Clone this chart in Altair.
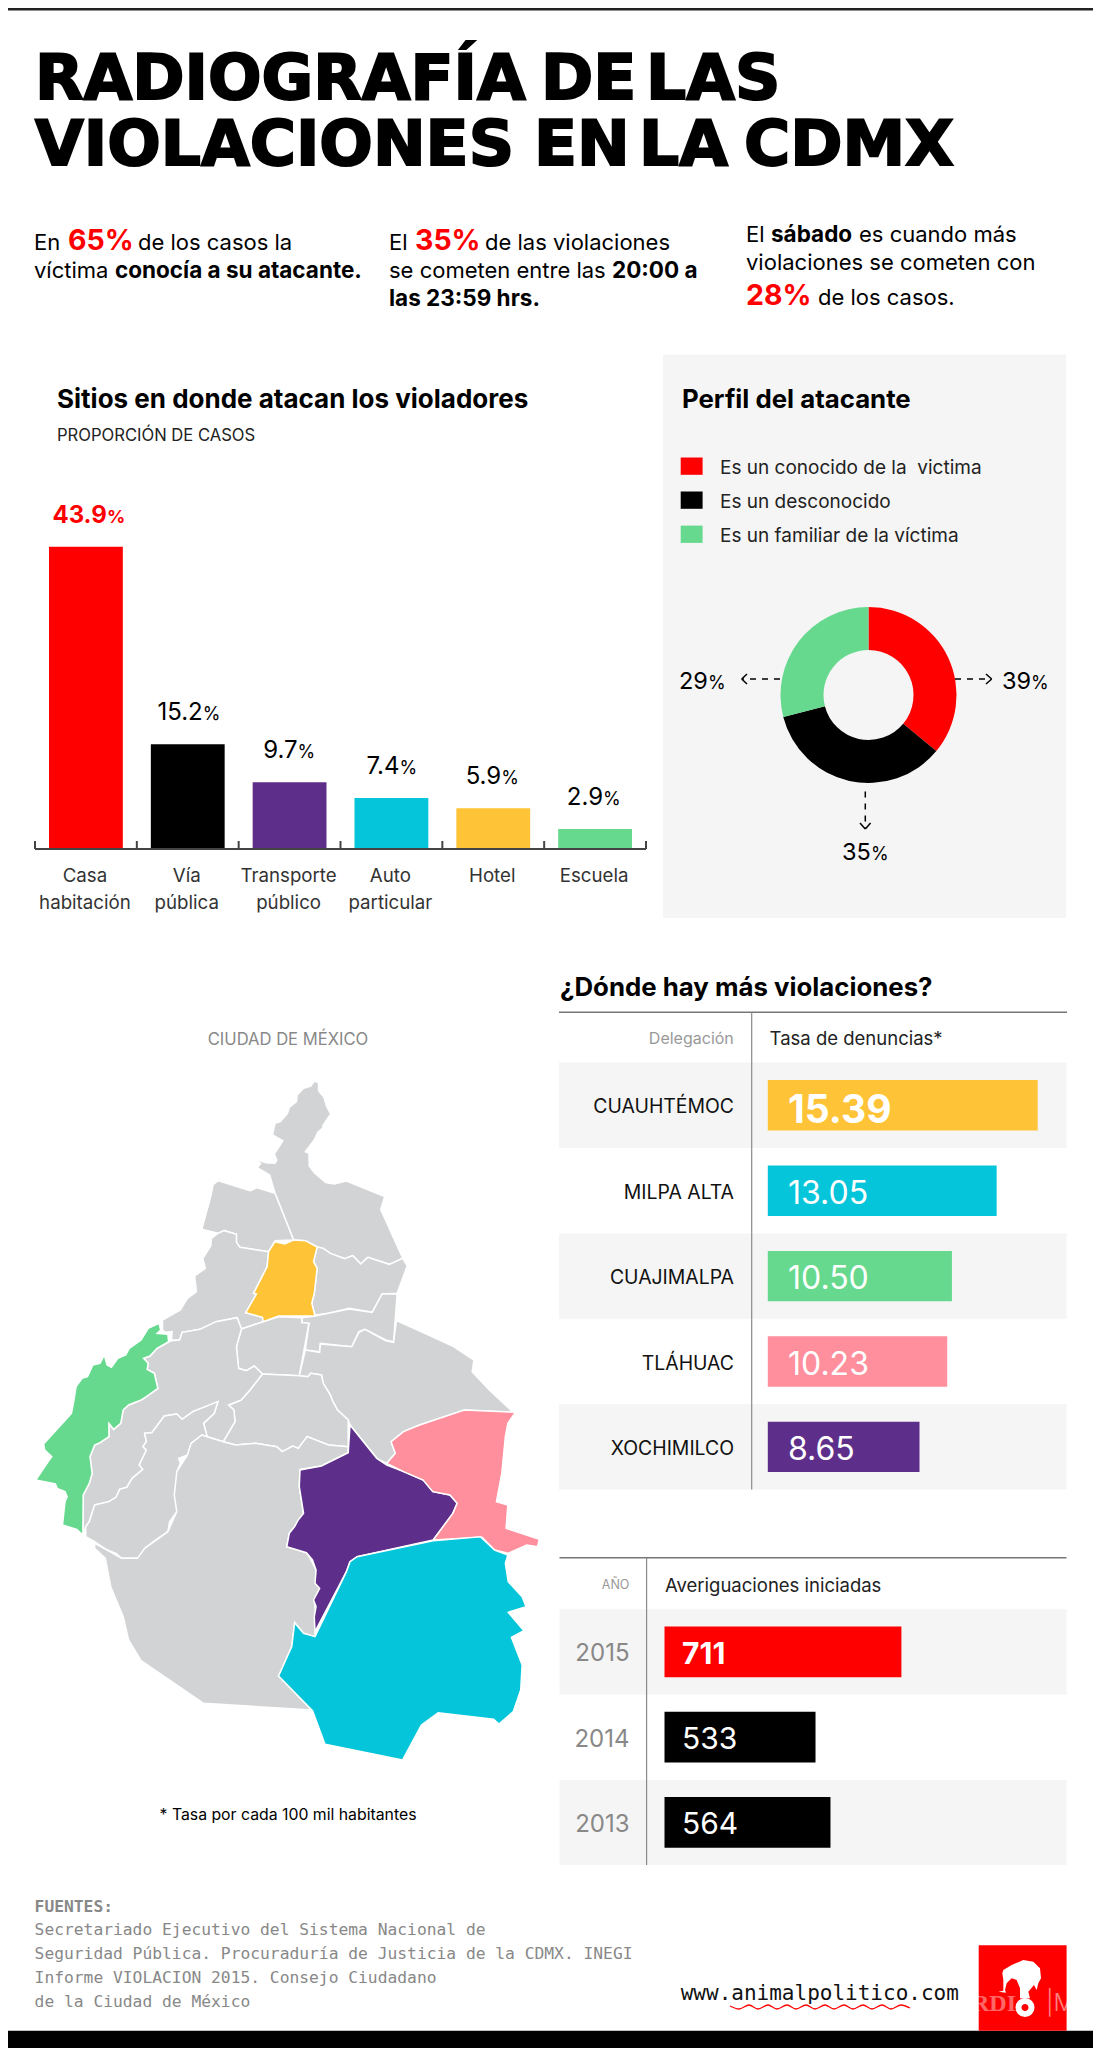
import altair as alt
import pandas as pd

# picture coordinates of the reference minus the page margin
M = 8
FONT = "Inter"
RED = "#ff0000"
PURPLE = "#5e2f8a"
CYAN = "#05c5da"
YELLOW = "#ffc338"
GREEN = "#66d98e"
PINK = "#ff8f9d"
GRAY = "#d1d3d5"
PANEL = "#f5f5f5"

SITES = ["Casa habitación", "Vía pública", "Transporte público", "Auto particular", "Hotel", "Escuela"]
SITE_LABELS = [["Casa", "habitación"], ["Vía", "pública"], ["Transporte", "público"], ["Auto", "particular"], ["Hotel"], ["Escuela"]]
SITE_VALUES = [43.9, 15.2, 9.7, 7.4, 5.9, 2.9]
SITE_COLORS = [RED, "#000000", PURPLE, CYAN, YELLOW, GREEN]
SITE_TICKS = [0, 1, 2, 3, 4, 5, 6]

PROFILE = ["Es un conocido de la \u00a0victima", "Es un desconocido", "Es un familiar de la víctima"]
PROFILE_SHARE = [36, 35, 29]
PROFILE_COLORS = [RED, "#000000", GREEN]

DELEGACIONES = ["CUAUHTÉMOC", "MILPA ALTA", "CUAJIMALPA", "TLÁHUAC", "XOCHIMILCO"]
TASAS = [15.39, 13.05, 10.50, 10.23, 8.65]
TASA_COLORS = [YELLOW, CYAN, GREEN, PINK, PURPLE]

YEARS = ["2015", "2014", "2013"]
AVERIGUACIONES = [711, 533, 564]
YEAR_COLORS = [RED, "#000000", "#000000"]

WAVE_X = [730, 739, 749, 758, 768, 777, 787, 796, 806, 815, 825, 834, 844, 853, 863, 872, 882, 891, 901, 910]
WAVE_Y = [2006, 2009, 2005, 2009, 2005, 2009, 2005, 2009, 2005, 2009, 2005, 2009, 2005, 2009, 2005, 2009, 2005, 2009, 2005, 2008]

# map outlines, traced in crop units (2.8 per px in x, 3 per px in y, origin 0,1000)
MAP_GAM = [(880,243),(892,248),(892,272),(907,292),(915,320),(926,342),(905,375),(903,385),(890,397),(880,420),(855,455),(865,460),(866,498),(880,518),(912,548),(936,552),(970,543),(1077,590),(1066,628),(1128,775),(1090,793),(1030,772),(1010,792),(988,767),(965,776),(925,760),(905,745),(888,741),(855,722),(822,720),(770,580),(755,525),(720,503),(730,490),(708,475),(745,488),(770,490),(775,480),(768,462),(792,422),(763,405),(770,370),(785,365),(805,340),(810,322),(830,305),(832,285),(850,265),(870,258)]
MAP_AZC = [(612,542),(700,572),(720,563),(770,580),(822,720),(770,722),(752,755),(672,742),(662,727),(662,703),(628,692),(610,700),(565,688),(590,590),(597,553)]
MAP_MH = [(610,700),(628,692),(662,703),(662,727),(672,742),(752,755),(748,800),(710,880),(718,882),(688,938),(735,952),(737,965),(676,987),(664,953),(605,965),(560,988),(510,997),(503,1020),(480,1020),(482,995),(462,997),(455,990),(455,960),(505,930),(525,895),(550,875),(545,828),(575,805),(568,775),(590,738),(592,715)]
MAP_VC = [(888,741),(905,745),(925,760),(965,776),(988,767),(1010,792),(1030,772),(1090,793),(1128,775),(1140,798),(1112,880),(1070,882),(1042,937),(978,925),(920,940),(882,945),(873,910),(880,880),(888,805),(878,785)]
MAP_IZC = [(882,948),(920,940),(978,927),(1042,937),(1070,882),(1112,882),(1102,1025),(1080,1020),(1022,988),(1005,995),(985,1040),(897,1030),(895,1055),(855,1050),(865,970),(845,968),(845,953)]
MAP_BJ = [(676,987),(737,965),(780,950),(845,953),(845,968),(865,970),(838,1127),(735,1122),(712,1098),(690,1112),(668,1105),(662,1040)]
MAP_IZT = [(855,1050),(895,1057),(897,1032),(985,1040),(1005,997),(1022,988),(1080,1022),(1102,1027),(1110,962),(1200,1005),(1270,1040),(1327,1080),(1322,1115),(1370,1170),(1400,1200),(1432,1232),(1440,1237),(1300,1230),(1175,1275),(1130,1295),(1095,1325),(1107,1360),(1083,1390),(1055,1375),(980,1275),(975,1260),(945,1230),(930,1200),(925,1185),(905,1150),(900,1125),(870,1120),(862,1130),(838,1127)]
MAP_COY = [(735,1122),(838,1127),(862,1130),(870,1120),(900,1125),(905,1150),(925,1185),(930,1200),(945,1230),(975,1260),(975,1340),(920,1335),(860,1310),(835,1345),(820,1338),(790,1355),(775,1340),(715,1330),(660,1335),(625,1325),(658,1265),(655,1230),(640,1215),(675,1200),(700,1170)]
MAP_AO = [(480,1022),(503,1020),(510,997),(560,988),(605,965),(664,953),(676,987),(662,1040),(668,1105),(690,1112),(712,1098),(735,1122),(700,1170),(675,1200),(640,1215),(655,1230),(658,1265),(625,1325),(580,1310),(570,1270),(600,1240),(610,1205),(540,1235),(510,1258),(495,1242),(460,1248),(425,1298),(405,1300),(410,1325),(400,1340),(410,1350),(390,1395),(400,1408),(370,1435),(355,1462),(335,1468),(325,1492),(305,1505),(265,1515),(250,1565),(240,1580),(232,1605),(233,1485),(250,1450),(258,1420),(252,1370),(265,1335),(280,1328),(305,1310),(305,1270),(318,1288),(338,1270),(345,1230),(360,1215),(395,1200),(442,1165),(432,1120),(412,1108),(415,1090),(402,1075),(420,1068),(440,1045)]
MAP_MC = [(405,1300),(425,1298),(460,1248),(495,1242),(510,1258),(540,1235),(610,1205),(600,1240),(570,1270),(580,1310),(565,1305),(535,1330),(525,1365),(500,1375),(505,1390),(495,1415),(495,1460),(488,1485),(497,1500),(495,1535),(475,1565),(470,1595),(435,1620),(405,1645),(400,1660),(385,1675),(340,1675),(325,1660),(300,1650),(265,1625),(240,1610),(240,1580),(250,1565),(265,1515),(305,1505),(325,1492),(335,1468),(355,1462),(370,1435),(400,1408),(390,1395),(410,1350),(400,1340),(410,1325)]
MAP_TLP = [(580,1310),(625,1325),(660,1335),(715,1330),(775,1340),(790,1355),(820,1338),(835,1345),(860,1310),(920,1335),(975,1340),(975,1358),(900,1398),(840,1408),(838,1460),(850,1540),(825,1580),(810,1600),(803,1640),(860,1658),(885,1710),(885,1750),(895,1765),(880,1800),(885,1850),(882,1910),(850,1900),(825,1868),(817,1940),(780,2028),(873,2130),(570,2110),(395,1982),(360,1920),(345,1850),(310,1760),(295,1675),(265,1645),(265,1630),(300,1650),(340,1675),(385,1675),(405,1645),(470,1595),(495,1535),(488,1485),(495,1415),(525,1365),(535,1330),(565,1305)]
MAP_CUAU = [(822,720),(855,722),(888,741),(878,785),(888,805),(880,880),(873,910),(882,948),(780,948),(737,965),(735,952),(688,938),(718,882),(710,880),(748,800),(752,755),(770,725),(797,732)]
MAP_CUAJ = [(445,970),(450,990),(440,1000),(470,1003),(472,1025),(440,1045),(420,1068),(402,1075),(415,1090),(412,1108),(432,1120),(442,1165),(410,1190),(395,1200),(360,1215),(345,1230),(338,1270),(318,1288),(305,1270),(305,1310),(280,1328),(265,1335),(252,1370),(258,1420),(250,1450),(233,1485),(232,1605),(215,1588),(175,1575),(182,1505),(188,1490),(182,1475),(160,1465),(155,1452),(100,1440),(135,1385),(145,1370),(125,1350),(122,1332),(200,1240),(207,1200),(213,1160),(230,1135),(245,1130),(260,1095),(280,1090),(292,1065),(300,1095),(312,1102),(330,1075),(352,1065),(362,1045),(395,1020),(415,985)]
MAP_XOC = [(980,1275),(1055,1375),(1083,1395),(1130,1415),(1185,1440),(1212,1475),(1260,1485),(1280,1510),(1268,1540),(1213,1620),(1000,1670),(980,1685),(970,1715),(882,1895),(880,1850),(885,1820),(878,1800),(895,1765),(882,1750),(885,1710),(875,1680),(858,1658),(803,1640),(810,1600),(825,1580),(835,1560),(850,1540),(838,1460),(840,1410),(900,1398),(975,1358)]
MAP_TLH = [(1083,1390),(1107,1360),(1095,1325),(1130,1295),(1175,1275),(1300,1230),(1443,1237),(1422,1270),(1415,1310),(1405,1420),(1390,1505),(1422,1515),(1417,1585),(1510,1618),(1505,1640),(1475,1635),(1422,1660),(1385,1650),(1350,1612),(1213,1620),(1268,1540),(1280,1510),(1260,1485),(1212,1475),(1185,1440),(1130,1415)]
MAP_MA = [(1213,1622),(1345,1610),(1385,1650),(1422,1665),(1415,1690),(1423,1745),(1462,1790),(1473,1820),(1423,1837),(1467,1892),(1432,1912),(1462,1995),(1458,2070),(1437,2135),(1397,2172),(1382,2158),(1227,2138),(1180,2175),(1127,2280),(910,2233),(875,2132),(780,2028),(817,1940),(825,1868),(850,1900),(882,1910),(970,1715),(980,1685),(1000,1670)]

MAP_SHAPES = [
    ("otra", MAP_GAM), ("otra", MAP_AZC), ("otra", MAP_MH), ("otra", MAP_VC), ("otra", MAP_IZC),
    ("otra", MAP_BJ), ("otra", MAP_IZT), ("otra", MAP_COY), ("otra", MAP_AO), ("otra", MAP_MC),
    ("otra", MAP_TLP), ("CUAUHTÉMOC", MAP_CUAU), ("CUAJIMALPA", MAP_CUAJ), ("XOCHIMILCO", MAP_XOC),
    ("TLÁHUAC", MAP_TLH), ("MILPA ALTA", MAP_MA),
]

# logo silhouette, crop units (3 per px, origin 970,1940)
LOGO_BODY = [(100,90),(125,75),(160,60),(190,65),(210,85),(213,115),(205,130),(200,150),(192,135),(175,155),(180,175),(150,175),(150,145),(140,120),(125,115),(110,130),(105,150),(108,158),(85,155),(100,152),(100,120),(97,100)]


def feature(name, pts, fx, fy, ox, oy):
    ring = [[ox + p[0] / fx - M, oy + p[1] / fy - M] for p in pts]
    ring.append(ring[0])
    return {"type": "Feature", "properties": {"name": name}, "geometry": {"type": "Polygon", "coordinates": [ring]}}


def label(text, x, y, size, color="#000000", weight=400, align="left", font=FONT, **kw):
    # x, y are the reference's pixel position of the text's baseline start
    df = pd.DataFrame({"t": [text]})
    return alt.Chart(df).mark_text(align=align, baseline="alphabetic", fontSize=size, font=font, fontWeight=weight, color=color, **kw).encode(
        x=alt.value(x - M), y=alt.value(y - M), text="t:N"
    )


def box(x, x2, y, y2, color):
    df = pd.DataFrame({"a": [0]})
    return alt.Chart(df).mark_rect(color=color).encode(
        x=alt.value(x - M), x2=alt.value(x2 - M), y=alt.value(y - M), y2=alt.value(y2 - M)
    )


def seg(x, y, x2, y2, color="#000000", width=1.5, dash=None):
    df = pd.DataFrame({"a": [0]})
    opts = {"strokeDash": dash} if dash else {}
    return alt.Chart(df).mark_rule(color=color, strokeWidth=width, **opts).encode(
        x=alt.value(x - M), x2=alt.value(x2 - M), y=alt.value(y - M), y2=alt.value(y2 - M)
    )


layers = []

# page rules
layers += [box(8, 1093, 8, 10.5, "#222222"), box(8, 1093, 2030.7, 2048, "#000000")]

# headline, word by word so the widths hold
HEAD = "DejaVu Sans"
for word, x, y in [("RADIOGRAFÍA", 35, 99), ("DE", 541, 99), ("LAS", 646, 99),
                   ("VIOLACIONES", 35, 165), ("EN", 534, 165), ("LA", 639, 165), ("CDMX", 744, 165)]:
    layers.append(label(word, x, y, 63, weight=700, font=HEAD, stroke="#000000", strokeWidth=2))

# the three facts
TXT = 22
BOLD = 22.5
PCT = 28.5
layers += [
    label("En", 34, 250, TXT), label("65%", 68, 250, PCT, RED, 700), label("de los casos la", 138, 250, TXT),
    label("víctima", 34, 278, TXT), label("conocía a su atacante.", 115, 278, BOLD, weight=700),
    label("El", 389, 250, TXT), label("35%", 415, 250, PCT, RED, 700), label("de las violaciones", 485, 250, TXT),
    label("se cometen entre las", 389, 278, TXT), label("20:00 a", 612, 278, BOLD, weight=700),
    label("las 23:59 hrs.", 389, 306, BOLD, weight=700),
    label("El", 746, 242, TXT), label("sábado", 771, 242, BOLD, weight=700), label("es cuando más", 859, 242, TXT),
    label("violaciones se cometen con", 746, 270, TXT),
    label("28%", 746, 305, PCT, RED, 700), label("de los casos.", 818, 305, TXT),
]

# sites bar chart
site_df = pd.DataFrame({"site": SITES, "value": SITE_VALUES})
site_x = alt.Scale(domain=SITES, range=[35 - M, 646 - M], paddingInner=0.275, paddingOuter=0.1375)
site_y = alt.Scale(domain=[0, 43.9], range=[849 - M, 546.7 - M], nice=False)
layers += [
    label("Sitios en donde atacan los violadores", 57, 408, 26, weight=700),
    label("PROPORCIÓN DE CASOS", 57, 441, 16.6, "#222222"),
    alt.Chart(site_df).mark_bar().encode(
        x=alt.X("site:N", sort=None, scale=site_x, axis=None),
        y=alt.Y("value:Q", scale=site_y, axis=None),
        color=alt.Color("site:N", scale=alt.Scale(domain=SITES, range=SITE_COLORS), legend=None),
    ),
    seg(35, 849, 646, 849, "#444444", 2),
    alt.Chart(pd.DataFrame({"edge": SITE_TICKS})).mark_rule(color="#444444", strokeWidth=2).encode(
        x=alt.X("edge:Q", scale=alt.Scale(domain=[0, 6], range=[35 - M, 646 - M], nice=False), axis=None),
        y=alt.value(841 - M), y2=alt.value(849 - M),
    ),
]
for i, site in enumerate(SITES):
    one = site_df[site_df["site"] == site].assign(num=f"{SITE_VALUES[i]:.1f}", pct="%")
    first = i == 0
    dx = 14 if len(one["num"].iloc[0]) == 4 else 7
    if first:
        dx = 20
    color = RED if first else "#000000"
    for field, align, size, offset in [("num", "right", 24, dx + 1), ("pct", "left", 18, dx + 1)]:
        layers.append(
            alt.Chart(one).mark_text(align=align, baseline="alphabetic", fontSize=size, font=FONT, color=color,
                                     fontWeight=700 if first else 400, dx=offset, dy=-24).encode(
                x=alt.X("site:N", sort=None, scale=site_x, axis=None),
                y=alt.Y("value:Q", scale=site_y, axis=None),
                text=f"{field}:N",
            )
        )
    for j, line in enumerate(SITE_LABELS[i]):
        layers.append(
            alt.Chart(one.assign(line=line)).mark_text(baseline="alphabetic", fontSize=18.7, font=FONT, color="#333333", dx=-1).encode(
                x=alt.X("site:N", sort=None, scale=site_x, axis=None),
                y=alt.value(882 - M + j * 26.5),
                text="line:N",
            )
        )

# attacker profile panel
profile_df = pd.DataFrame({"profile": PROFILE, "share": PROFILE_SHARE, "order": [0, 1, 2]})
layers += [
    box(663, 1066, 354.5, 918, PANEL),
    label("Perfil del atacante", 682, 408, 25.8, weight=700),
]
for name, color, top in zip(PROFILE, PROFILE_COLORS, [457.5, 491.5, 525.6]):
    layers += [box(680.7, 702.6, top, top + 17.3, color), label(name, 720, top + 16.5, 19, "#222222")]
layers += [
    alt.Chart(profile_df).mark_arc(radius=88, radius2=45).encode(
        x=alt.value(868.5 - M), y=alt.value(695 - M),
        theta=alt.Theta("share:Q", stack=True, scale=alt.Scale(domain=[0, 100], range=[0, 6.2832])),
        order=alt.Order("order:Q"),
        color=alt.Color("profile:N", scale=alt.Scale(domain=PROFILE, range=PROFILE_COLORS), legend=None),
    ),
    seg(955, 679, 991, 679, dash=[6, 6]), seg(986, 674, 991.7, 679), seg(986, 684, 991.7, 679),
    seg(780, 679, 743, 679, dash=[6, 6]), seg(747, 674, 741.7, 679), seg(747, 684, 741.7, 679),
    seg(865.3, 791.6, 865.3, 828, dash=[6, 6]), seg(860, 823, 865.3, 829), seg(870.6, 823, 865.3, 829),
    label("39", 1002, 689, 23.5), label("%", 1031, 689, 18),
    label("29", 679, 689, 23.5), label("%", 708, 689, 18),
    label("35", 842, 860, 23.5), label("%", 871, 860, 18),
]

# table of delegaciones
deleg_df = pd.DataFrame({"name": DELEGACIONES, "tasa": TASAS, "txt": [f"{v:.2f}" for v in TASAS]})
stripe_y = alt.Scale(domain=DELEGACIONES, range=[1062.6 - M, 1489.6 - M], paddingInner=0, paddingOuter=0)
deleg_y = alt.Scale(domain=DELEGACIONES, range=[1062.6 - M, 1489.6 - M], paddingInner=0.41, paddingOuter=0.205)
deleg_x = alt.Scale(domain=[0, 15.39], range=[767.8 - M, 1037.7 - M], nice=False)
y_deleg = alt.Y("name:N", sort=None, scale=deleg_y, axis=None)
layers += [
    label("¿Dónde hay más violaciones?", 560, 995.5, 25.8, weight=700),
    alt.Chart(deleg_df.iloc[::2]).mark_rect(color=PANEL).encode(
        x=alt.value(559 - M), x2=alt.value(1066.5 - M),
        y=alt.Y("name:N", sort=None, scale=stripe_y, axis=None),
    ),
    seg(559, 1012.3, 1067, 1012.3, "#777777", 1.5),
    seg(751.7, 1012.3, 751.7, 1489.6, "#8a8a8a", 1.2),
    label("Delegación", 733.8, 1043.7, 16, "#999999", align="right"),
    label("Tasa de denuncias*", 769.6, 1045.4, 18.5, "#222222"),
    alt.Chart(deleg_df).mark_bar().encode(
        x=alt.X("tasa:Q", scale=deleg_x, axis=None),
        y=y_deleg,
        color=alt.Color("name:N", scale=alt.Scale(domain=DELEGACIONES, range=TASA_COLORS), legend=None),
    ),
    alt.Chart(deleg_df).mark_text(align="right", baseline="alphabetic", fontSize=19.4, font=FONT, color="#111111", dy=8).encode(
        x=alt.value(734 - M), y=y_deleg, text="name:N"
    ),
    alt.Chart(deleg_df.iloc[:1]).mark_text(align="left", baseline="alphabetic", fontSize=39, font=FONT, fontWeight=700, color="#ffffff", dy=17.5).encode(
        x=alt.value(788 - M), y=y_deleg, text="txt:N"
    ),
    alt.Chart(deleg_df.iloc[1:]).mark_text(align="left", baseline="alphabetic", fontSize=32, font=FONT, color="#ffffff", dy=13).encode(
        x=alt.value(788 - M), y=y_deleg, text="txt:N"
    ),
]

# table of years
year_df = pd.DataFrame({"year": YEARS, "n": AVERIGUACIONES, "base": [220, 220, 220], "txt": [str(v) for v in AVERIGUACIONES]})
year_stripe = alt.Scale(domain=YEARS, range=[1609.3 - M, 1865 - M], paddingInner=0, paddingOuter=0)
year_band = alt.Scale(domain=YEARS, range=[1609.3 - M, 1865 - M], paddingInner=0.405, paddingOuter=0.2025)
# the picture's bars do not start at zero
year_x = alt.Scale(domain=[220, 711], range=[664.5 - M, 901.4 - M], nice=False, zero=False)
y_year = alt.Y("year:N", sort=None, scale=year_band, axis=None)
layers += [
    alt.Chart(year_df.iloc[::2]).mark_rect(color=PANEL).encode(
        x=alt.value(559.5 - M), x2=alt.value(1066.5 - M),
        y=alt.Y("year:N", sort=None, scale=year_stripe, axis=None),
    ),
    seg(559.5, 1557.7, 1066.5, 1557.7, "#777777", 1.5),
    seg(646.6, 1557.7, 646.6, 1865, "#8a8a8a", 1.2),
    label("AÑO", 629.4, 1588.7, 12.5, "#999999", align="right"),
    label("Averiguaciones iniciadas", 665, 1591.7, 18.5, "#222222"),
    alt.Chart(year_df).mark_bar().encode(
        x=alt.X("n:Q", scale=year_x, axis=None),
        x2="base:Q",
        y=y_year,
        color=alt.Color("year:N", scale=alt.Scale(domain=YEARS, range=YEAR_COLORS), legend=None),
    ),
    alt.Chart(year_df).mark_text(align="right", baseline="alphabetic", fontSize=24, font=FONT, color="#888888", dy=9.4).encode(
        x=alt.value(629.5 - M), y=y_year, text="year:N"
    ),
    alt.Chart(year_df.iloc[:1]).mark_text(align="left", baseline="alphabetic", fontSize=30, font=FONT, fontWeight=700, color="#ffffff", dy=11.7).encode(
        x=alt.value(682 - M), y=y_year, text="txt:N"
    ),
    alt.Chart(year_df.iloc[1:]).mark_text(align="left", baseline="alphabetic", fontSize=30, font=FONT, color="#ffffff", dy=11.7).encode(
        x=alt.value(682 - M), y=y_year, text="txt:N"
    ),
]

# map
map_features = [feature(name, pts, 2.8, 3, 0, 1000) for name, pts in MAP_SHAPES]
map_names = ["otra"] + DELEGACIONES
map_colors = [GRAY] + TASA_COLORS
layers += [
    label("CIUDAD DE MÉXICO", 288, 1045, 16.6, "#888888", align="center"),
    alt.Chart(alt.Data(values=map_features)).mark_geoshape(stroke="#ffffff", strokeWidth=1.5).encode(
        color=alt.Color("properties.name:N", scale=alt.Scale(domain=map_names, range=map_colors), legend=None)
    ).project(type="identity", scale=1, translate=[0, 0]),
    label("* Tasa por cada 100 mil habitantes", 288, 1820, 15.8, align="center"),
]

# sources
MONO = "DejaVu Sans Mono"
layers += [
    label("FUENTES:", 34.6, 1911.7, 16.3, "#888888", 700, font=MONO),
    label("Secretariado Ejecutivo del Sistema Nacional de", 34.6, 1935, 16.3, "#888888", font=MONO),
    label("Seguridad Pública. Procuraduría de Justicia de la CDMX. INEGI", 34.6, 1959, 16.3, "#888888", font=MONO),
    label("Informe VIOLACION 2015. Consejo Ciudadano", 34.6, 1983, 16.3, "#888888", font=MONO),
    label("de la Ciudad de México", 34.6, 2007, 16.3, "#888888", font=MONO),
]

# url and logo
wave_df = pd.DataFrame({"x": WAVE_X, "y": WAVE_Y})
layers += [
    label("www.animalpolitico.com", 680.7, 1999.5, 21, "#111111", font=MONO),
    alt.Chart(wave_df).mark_line(color=RED, strokeWidth=1.3, interpolate="monotone").encode(
        x=alt.X("x:Q", scale=alt.Scale(domain=[730, 910], range=[730 - M, 910 - M], nice=False, zero=False), axis=None),
        y=alt.Y("y:Q", scale=alt.Scale(domain=[2005, 2009], range=[2005 - M, 2009 - M], nice=False, zero=False), axis=None),
        order="x:Q",
    ),
    box(978.7, 1066.6, 1945.3, 2030.7, RED),
    label("RDIA", 972, 2011, 24, "#ffffff", 700, font="Liberation Serif", opacity=0.4),
    label("|M", 1046, 2011, 24, "#ffffff", 300, opacity=0.5),
    alt.Chart(alt.Data(values=[feature("logo", LOGO_BODY, 3, 3, 970, 1940)])).mark_geoshape(color="#ffffff", strokeWidth=0).encode(
    ).project(type="identity", scale=1, translate=[0, 0]),
    alt.Chart(pd.DataFrame({"a": [0]})).mark_circle(size=170, color=RED, opacity=1, stroke="#ffffff", strokeWidth=6).encode(
        x=alt.value(1025 - M), y=alt.value(2007.5 - M)
    ),
]

chart = alt.layer(*layers).resolve_scale(x="independent", y="independent", color="independent", theta="independent").properties(
    width=1085, height=2040, padding=0, background="#ffffff", autosize=alt.AutoSizeParams(type="none")
).configure_view(stroke=None)

chart.save("out.html", embed_options={"renderer": "svg", "actions": False})
